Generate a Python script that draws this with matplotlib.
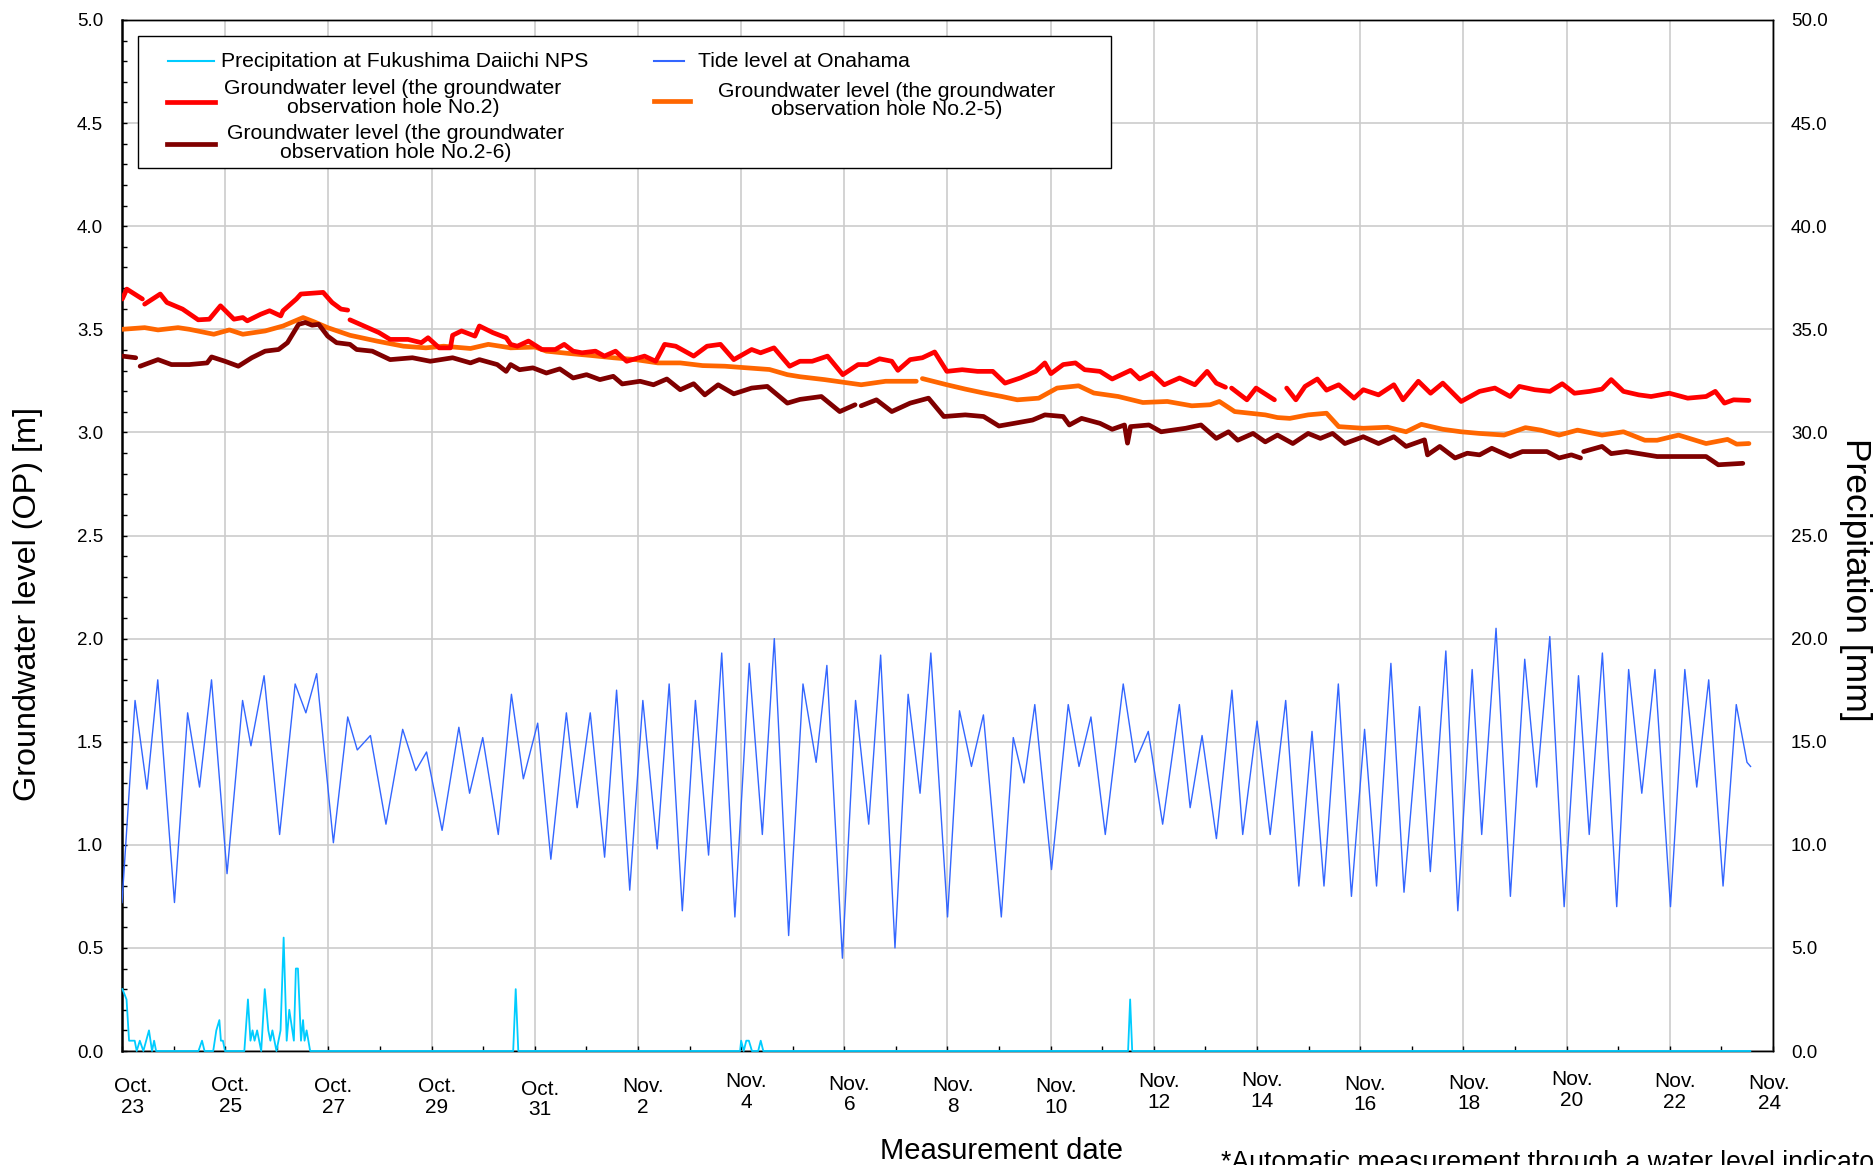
import numpy as np
import matplotlib
matplotlib.use("Agg")
import matplotlib.pyplot as plt
from matplotlib.patches import Rectangle
from matplotlib.lines import Line2D

plt.rcParams['font.family'] = ['Liberation Sans', 'DejaVu Sans']

# ---------------- data (x = days since Oct. 23 00:00) ----------------
date_labels = ["Oct.\n23", "Oct.\n25", "Oct.\n27", "Oct.\n29", "Oct.\n31", "Nov.\n2", "Nov.\n4",
               "Nov.\n6", "Nov.\n8", "Nov.\n10", "Nov.\n12", "Nov.\n14", "Nov.\n16", "Nov.\n18",
               "Nov.\n20", "Nov.\n22", "Nov.\n24"]
label_days = np.arange(0, 33, 2)

tide = [(0.000,0.72),(0.253,1.70),(0.484,1.27),(0.693,1.80),(1.017,0.72),(1.272,1.64),(1.503,1.28),(1.735,1.80),
        (2.036,0.86),(2.337,1.70),(2.499,1.48),(2.754,1.82),(3.055,1.05),(3.356,1.78),(3.564,1.64),(3.773,1.83),
        (4.097,1.01),(4.375,1.62),(4.560,1.46),(4.815,1.53),(5.116,1.10),(5.440,1.56),(5.695,1.36),(5.903,1.45),
        (6.204,1.07),(6.529,1.57),(6.737,1.25),(6.992,1.52),(7.293,1.05),(7.548,1.73),(7.779,1.32),(8.057,1.59),
        (8.312,0.93),(8.613,1.64),(8.822,1.18),(9.076,1.64),(9.354,0.94),(9.586,1.75),(9.841,0.78),(10.095,1.70),
        (10.373,0.98),(10.605,1.78),(10.860,0.68),(11.114,1.70),(11.369,0.95),(11.624,1.93),(11.879,0.65),(12.157,1.88),
        (12.411,1.05),(12.643,2.00),(12.921,0.56),(13.199,1.78),(13.454,1.40),(13.662,1.87),(13.963,0.45),(14.218,1.70),
        (14.473,1.10),(14.704,1.92),(14.982,0.50),(15.237,1.73),(15.468,1.25),(15.677,1.93),(16.001,0.65),(16.233,1.65),
        (16.464,1.38),(16.696,1.63),(17.043,0.65),(17.275,1.52),(17.483,1.30),(17.692,1.68),(18.016,0.88),(18.340,1.68),
        (18.549,1.38),(18.780,1.62),(19.058,1.05),(19.406,1.78),(19.637,1.40),(19.892,1.55),(20.170,1.10),(20.494,1.68),
        (20.703,1.18),(20.934,1.53),(21.212,1.03),(21.513,1.75),(21.722,1.05),(22.000,1.60),(22.254,1.05),(22.555,1.70),
        (22.810,0.80),(23.065,1.55),(23.297,0.80),(23.575,1.78),(23.829,0.75),(24.084,1.56),(24.316,0.80),(24.594,1.88),
        (24.848,0.77),(25.150,1.67),(25.358,0.87),(25.659,1.94),(25.891,0.68),(26.169,1.85),(26.354,1.05),(26.632,2.05),
        (26.910,0.75),(27.188,1.90),(27.419,1.28),(27.674,2.01),(27.952,0.70),(28.230,1.82),(28.438,1.05),(28.693,1.93),
        (28.971,0.70),(29.202,1.85),(29.457,1.25),(29.712,1.85),(30.013,0.70),(30.291,1.85),(30.522,1.28),(30.754,1.80),
        (31.032,0.80),(31.288,1.68),(31.496,1.40),(31.565,1.38)]

precip = [(0.009,3.0),(0.088,2.5),(0.137,0.5),(0.246,0.5),(0.285,0),(0.345,0.5),(0.414,0),(0.523,1.0),(0.582,0),
          (0.622,0.5),(0.661,0),(1.482,0),(1.551,0.5),(1.600,0),(1.768,0),(1.828,1.0),(1.887,1.5),(1.917,0.5),
          (1.956,0.5),(1.996,0),(2.371,0),(2.441,2.5),(2.490,0.5),(2.530,1.0),(2.569,0.5),(2.619,1.0),(2.698,0),
          (2.767,3.0),(2.836,1.0),(2.876,0.5),(2.915,1.0),(2.994,0),(3.073,1.0),(3.133,5.5),(3.192,0.5),(3.242,2.0),
          (3.331,0.5),(3.370,4.0),(3.410,4.0),(3.469,0.5),(3.509,1.5),(3.538,0.5),(3.578,1.0),(3.647,0),(7.582,0),
          (7.631,3.0),(7.681,0),(11.98,0),(12.00,0.5),(12.05,0),(12.10,0.5),(12.15,0.5),(12.21,0),(12.33,0),
          (12.38,0.5),(12.43,0),(19.50,0),(19.54,2.5),(19.58,0),(31.56,0)]

# groundwater hole No.2 (None = missing data)
gw2 = [(0.006,3.647),(0.093,3.695),(0.395,3.647),(0.42,None),(0.439,3.622),(0.741,3.671),(0.871,3.630),(1.174,3.598),
       (1.477,3.546),(1.693,3.549),(1.909,3.614),(2.169,3.549),(2.342,3.557),(2.428,3.541),(2.688,3.573),(2.861,3.590),
       (3.077,3.565),(3.121,3.590),(3.380,3.647),(3.467,3.671),(3.899,3.679),(4.072,3.630),(4.245,3.598),(4.375,3.593),
       (4.40,None),(4.418,3.546),(4.764,3.508),(4.980,3.484),(5.197,3.451),(5.543,3.451),(5.802,3.435),(5.932,3.459),
       (6.148,3.410),(6.365,3.410),(6.408,3.471),(6.581,3.492),(6.841,3.467),(6.927,3.516),(7.186,3.484),(7.446,3.459),
       (7.533,3.427),(7.662,3.418),(7.878,3.443),(8.138,3.402),(8.398,3.402),(8.571,3.427),(8.744,3.394),(8.917,3.386),
       (9.177,3.394),(9.350,3.370),(9.566,3.394),(9.782,3.345),(10.128,3.370),(10.344,3.345),(10.517,3.427),(10.733,3.418),
       (10.906,3.394),(11.080,3.370),(11.339,3.418),(11.599,3.427),(11.858,3.353),(12.204,3.402),(12.377,3.386),
       (12.637,3.410),(12.940,3.321),(13.140,3.345),(13.377,3.345),(13.674,3.370),(13.971,3.280),(14.267,3.329),
       (14.445,3.329),(14.683,3.357),(14.920,3.345),(15.039,3.301),(15.276,3.353),(15.513,3.362),(15.751,3.390),
       (15.988,3.296),(16.285,3.304),(16.581,3.296),(16.878,3.296),(17.115,3.239),(17.412,3.264),(17.709,3.296),
       (17.887,3.337),(18.005,3.285),(18.243,3.329),(18.480,3.337),(18.658,3.304),(18.955,3.296),(19.192,3.259),
       (19.548,3.301),(19.726,3.259),(19.963,3.288),(20.201,3.231),(20.498,3.264),(20.794,3.231),(21.032,3.296),
       (21.210,3.239),(21.388,3.219),(21.45,None),(21.506,3.215),(21.803,3.158),(21.981,3.215),(22.337,3.158),
       (22.45,None),(22.574,3.215),(22.752,3.158),(22.930,3.223),(23.168,3.259),(23.346,3.205),(23.583,3.231),
       (23.880,3.166),(24.058,3.207),(24.354,3.182),(24.651,3.231),(24.829,3.158),(25.126,3.248),(25.363,3.190),
       (25.600,3.239),(25.956,3.150),(26.312,3.199),(26.609,3.215),(26.906,3.174),(27.084,3.223),(27.380,3.207),
       (27.677,3.199),(27.914,3.236),(28.152,3.190),(28.449,3.199),(28.686,3.210),(28.864,3.256),(29.101,3.199),
       (29.398,3.182),(29.637,3.174),(29.991,3.190),(30.347,3.166),(30.703,3.174),(30.881,3.199),(31.059,3.142),
       (31.237,3.158),(31.534,3.155)]

# groundwater hole No.2-5
gw25 = [(0.006,3.500),(0.439,3.508),(0.698,3.497),(1.087,3.508),(1.304,3.500),(1.779,3.476),(2.082,3.497),(2.342,3.476),
        (2.774,3.492),(3.121,3.516),(3.510,3.557),(3.726,3.536),(3.986,3.508),(4.418,3.471),(4.937,3.443),(5.456,3.418),
        (5.889,3.410),(6.235,3.418),(6.754,3.407),(7.100,3.427),(7.533,3.410),(8.008,3.414),(8.225,3.394),(8.657,3.383),
        (9.090,3.373),(9.522,3.362),(9.955,3.353),(10.387,3.337),(10.820,3.337),(11.252,3.324),(11.685,3.321),
        (12.117,3.313),(12.550,3.305),(12.896,3.280),(13.140,3.270),(13.615,3.256),(14.327,3.231),(14.801,3.248),
        (15.395,3.248),(15.45,None),(15.513,3.261),(15.988,3.231),(16.344,3.210),(16.700,3.191),(17.056,3.174),
        (17.353,3.158),(17.768,3.166),(18.124,3.215),(18.540,3.226),(18.836,3.191),(19.311,3.174),(19.786,3.145),
        (20.260,3.150),(20.735,3.129),(21.091,3.134),(21.269,3.150),(21.566,3.101),(22.159,3.085),(22.396,3.072),
        (22.634,3.068),(22.990,3.085),(23.346,3.093),(23.583,3.028),(24.058,3.020),(24.532,3.025),(24.888,3.003),
        (25.185,3.039),(25.600,3.015),(25.956,3.003),(26.312,2.995),(26.787,2.987),(27.202,3.023),(27.499,3.011),
        (27.855,2.987),(28.211,3.011),(28.686,2.987),(29.101,3.003),(29.516,2.962),(29.754,2.962),(30.169,2.987),
        (30.703,2.946),(31.118,2.966),(31.297,2.943),(31.534,2.946)]

# groundwater hole No.2-6
gw26 = [(0.006,3.370),(0.266,3.362),(0.31,None),(0.352,3.321),(0.698,3.353),(0.958,3.329),(1.304,3.329),(1.650,3.337),
        (1.736,3.366),(1.996,3.345),(2.169,3.329),(2.255,3.321),(2.515,3.362),(2.774,3.394),(3.034,3.402),(3.207,3.435),
        (3.423,3.524),(3.553,3.533),(3.683,3.520),(3.813,3.524),(3.986,3.467),(4.159,3.435),(4.418,3.427),(4.548,3.402),
        (4.851,3.394),(5.197,3.353),(5.629,3.362),(5.975,3.345),(6.408,3.362),(6.754,3.337),(6.927,3.353),(7.273,3.329),
        (7.446,3.296),(7.533,3.329),(7.706,3.304),(7.965,3.313),(8.225,3.288),(8.485,3.308),(8.744,3.264),(9.004,3.280),
        (9.263,3.256),(9.522,3.272),(9.695,3.235),(10.041,3.248),(10.301,3.231),(10.560,3.259),(10.820,3.207),
        (11.080,3.236),(11.296,3.182),(11.555,3.231),(11.858,3.187),(12.204,3.215),(12.507,3.223),(12.896,3.142),
        (13.140,3.160),(13.555,3.174),(13.911,3.101),(14.208,3.134),(14.27,None),(14.327,3.129),(14.623,3.158),
        (14.920,3.101),(15.276,3.142),(15.632,3.166),(15.929,3.077),(16.344,3.085),(16.700,3.077),(16.997,3.031),
        (17.293,3.044),(17.649,3.060),(17.887,3.085),(18.243,3.077),(18.361,3.036),(18.599,3.068),(18.955,3.044),
        (19.192,3.015),(19.430,3.036),(19.489,2.948),(19.548,3.028),(19.904,3.036),(20.141,3.003),(20.616,3.020),
        (20.913,3.036),(21.210,2.971),(21.447,3.003),(21.625,2.962),(21.922,2.995),(22.159,2.954),(22.396,2.987),
        (22.693,2.946),(22.990,2.995),(23.227,2.971),(23.464,2.995),(23.702,2.946),(24.058,2.979),(24.354,2.946),
        (24.651,2.979),(24.888,2.932),(25.245,2.964),(25.304,2.891),(25.541,2.932),(25.837,2.876),(26.075,2.899),
        (26.312,2.891),(26.550,2.923),(26.906,2.883),(27.143,2.907),(27.618,2.907),(27.855,2.876),(28.092,2.891),
        (28.270,2.876),(28.30,None),(28.330,2.907),(28.686,2.932),(28.864,2.897),(29.161,2.907),(29.754,2.883),
        (30.703,2.883),(30.940,2.843),(31.415,2.850)]

series_names = ["Precipitation at Fukushima Daiichi NPS", "Tide level at Onahama",
                "Groundwater level (the groundwater\nobservation hole No.2)",
                "Groundwater level (the groundwater\nobservation hole No.2-5)",
                "Groundwater level (the groundwater\nobservation hole No.2-6)"]
colors = {"precip": "#00CCFF", "tide": "#3366FF", "gw2": "#FF0000", "gw25": "#FF6600", "gw26": "#800000"}


def unzip(pairs):
    x = np.array([p[0] for p in pairs], dtype=float)
    y = np.array([np.nan if p[1] is None else p[1] for p in pairs], dtype=float)
    return x, y


# ---------------- figure ----------------
W, H = 1874, 1165
fig = plt.figure(figsize=(W / 100, H / 100), dpi=100)
L, R, T, B = 122, 1773, 20, 1051
ax = fig.add_axes([L / W, 1 - B / H, (R - L) / W, (B - T) / H])

ax.set_xlim(0, 32)
ax.set_ylim(0, 5)
ax.set_xticks(np.arange(0, 33, 2))
ax.set_xticks(np.arange(0, 33, 1), minor=True)
ax.set_yticks(np.arange(0, 5.01, 0.5))
ax.set_yticks(np.arange(0, 5.01, 0.1), minor=True)
ax.yaxis.set_major_formatter('{x:.1f}')
ax.tick_params(axis='x', which='both', direction='in', length=3.6, width=1, labelbottom=False, color='black')
ax.tick_params(axis='y', which='both', direction='in', length=3.6, width=1, labelsize=13.5, pad=13.5)
ax.grid(True, which='major', color='#cccccc', lw=1.2)
ax.set_axisbelow(True)
for s in ax.spines.values():
    s.set_linewidth(1.0)
ax.spines['left'].set_linewidth(1.8)

tx, ty = unzip(tide)
ax.plot(tx, ty, color=colors["tide"], lw=1.0, zorder=3)
for key, data in (("gw25", gw25), ("gw26", gw26), ("gw2", gw2)):
    x, y = unzip(data)
    ax.plot(x, y, color=colors[key], lw=3.4, solid_capstyle='round', solid_joinstyle='round', zorder=4)

ax2 = ax.twinx()
ax2.set_ylim(0, 50)
ax2.set_yticks(np.arange(0, 50.01, 5))
ax2.yaxis.set_major_formatter('{x:.1f}')
ax2.tick_params(axis='y', length=0, labelsize=13.5, pad=13)
for s in ax2.spines.values():
    s.set_linewidth(1.0)
ax2.spines['left'].set_visible(False)
px, py = unzip(precip)
ax2.plot(px, py, color=colors["precip"], lw=1.3, zorder=3, clip_on=False)

# x date labels
xt = ax.get_xaxis_transform()
label_pos = np.clip(label_days + 0.1, 0.21, 31.93)
jitter_px = [0, -1, 0, 0, 2, 0, -4, -2, -1, 0, -4, -5, -2, -3, -6, -4, -3]
for d, lab, j in zip(label_pos, date_labels, jitter_px):
    ax.text(d, -(1097 - B + j * 1.2) / (B - T), lab, transform=xt, ha='center', va='center',
            fontsize=15, linespacing=1.1)

# axis titles
fig.text(28 / W, 1 - 604 / H, "Groundwater level (OP) [m]", rotation=90, ha='center', va='center', fontsize=23.3)
fig.text(1856 / W, 1 - 580 / H, "Precipitation [mm]", rotation=270, ha='center', va='center', fontsize=25.5)
fig.text(1002 / W, 1 - 1151 / H, "Measurement date", ha='center', va='center', fontsize=21)
fig.text(1221 / W, 1 - 1150 / H, "*Automatic measurement through a water level indicator", ha='left', va='top',
         fontsize=19.2)

# legend (drawn in axes fraction)
ta = ax2.transAxes
ax2.add_patch(Rectangle((0.0095, 0.8565), 0.5895, 0.1283, transform=ta, fc='white', ec='black', lw=1.0,
                        zorder=10, clip_on=False))
fs = 15.2
ax2.add_line(Line2D([0.0279, 0.0557], [0.9602, 0.9602], transform=ta, color=colors["precip"], lw=1.5, zorder=11))
ax2.text(0.0597, 0.9602, series_names[0], transform=ta, ha='left', va='center', fontsize=fs, zorder=11)
ax2.add_line(Line2D([0.3222, 0.3404], [0.9602, 0.9602], transform=ta, color=colors["tide"], lw=1.5, zorder=11))
ax2.text(0.3486, 0.9602, series_names[1], transform=ta, ha='left', va='center', fontsize=fs, zorder=11)

entries = [("gw2", 0.0273, 0.0563, 0.9208, 0.1641, 0.9335, 0.9152, series_names[2]),
           ("gw25", 0.3222, 0.3440, 0.9215, 0.4634, 0.9309, 0.9133, series_names[3]),
           ("gw26", 0.0273, 0.0563, 0.8797, 0.1660, 0.8898, 0.8718, series_names[4])]
for key, x0, x1, yl, xc, y1, y2, name in entries:
    ax2.add_line(Line2D([x0, x1], [yl, yl], transform=ta, color=colors[key], lw=3.4, zorder=11))
    l1, l2 = name.split("\n")
    ax2.text(xc, y1, l1, transform=ta, ha='center', va='center', fontsize=fs, zorder=11)
    ax2.text(xc, y2, l2, transform=ta, ha='center', va='center', fontsize=fs, zorder=11)

fig.savefig("out.png", dpi=100)
